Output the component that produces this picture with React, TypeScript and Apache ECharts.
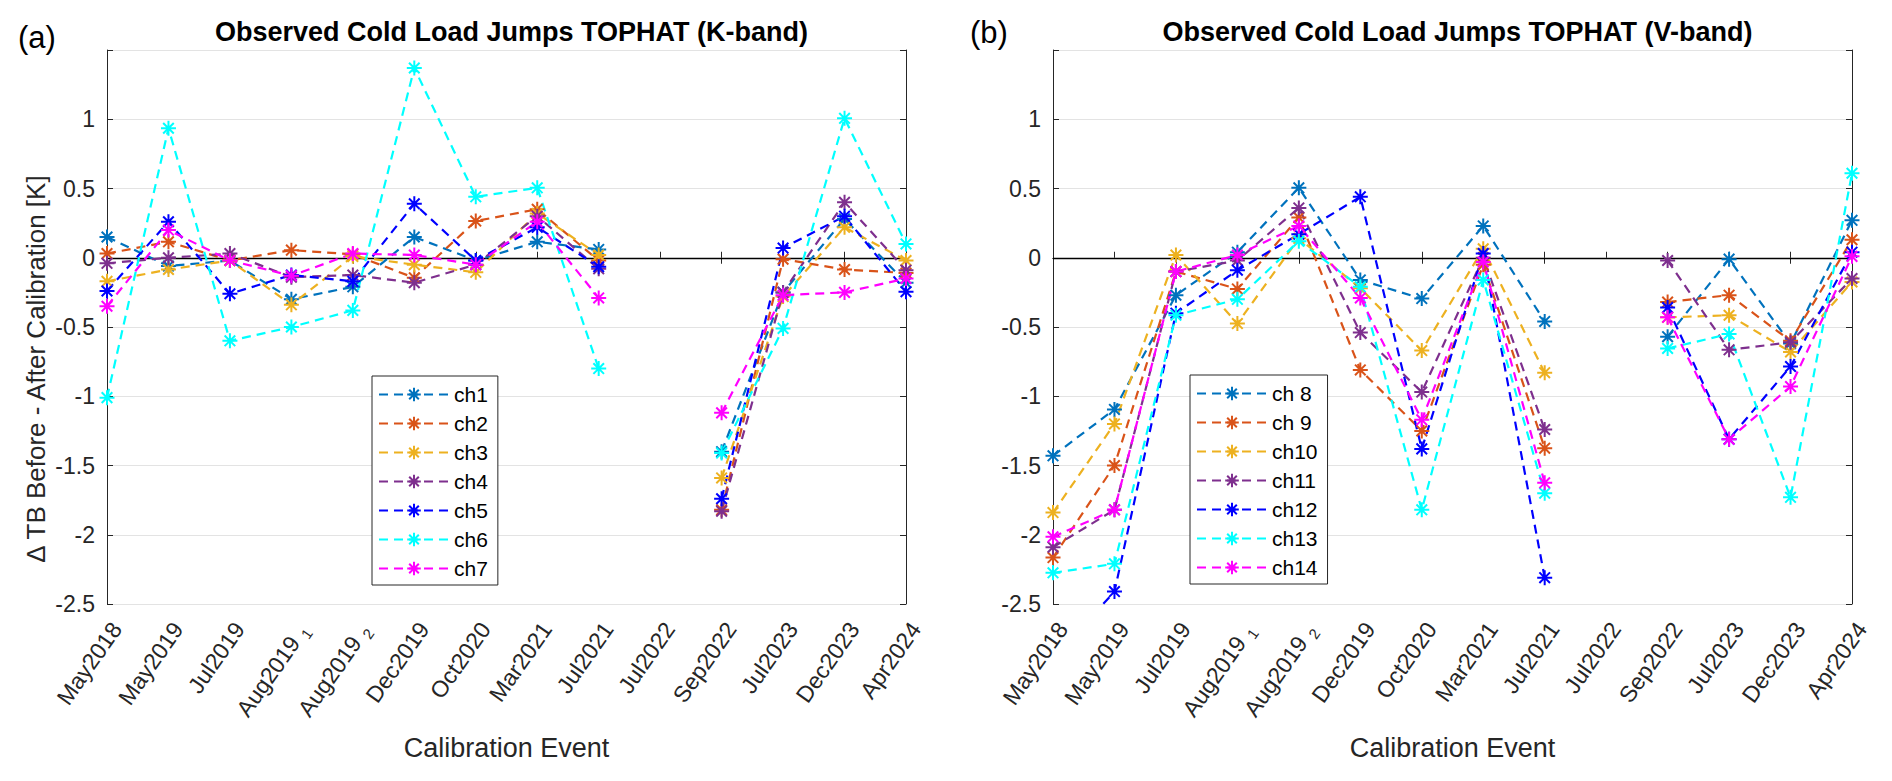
import React, { useEffect, useRef } from "react";
import * as echarts from "echarts";

// ---------- data ----------
const categories = [
  "May2018", "May2019", "Jul2019", "Aug2019_1", "Aug2019_2", "Dec2019", "Oct2020",
  "Mar2021", "Jul2021", "Jul2022", "Sep2022", "Jul2023", "Dec2023", "Apr2024",
];

const kNames = ["ch1", "ch2", "ch3", "ch4", "ch5", "ch6", "ch7"];
const vNames = ["ch 8", "ch 9", "ch10", "ch11", "ch12", "ch13", "ch14"];
const colors = ["#0072BD", "#D95319", "#EDB120", "#7E2F8E", "#0000FF", "#00FFFF", "#FF00FF"];

// K-band (panel a)
const ch1 = [0.15, -0.06, -0.02, -0.30, -0.21, 0.15, -0.02, 0.115, 0.06, null, -1.40, -0.25, 0.28, -0.18];
const ch2 = [0.03, 0.115, -0.02, 0.055, 0.025, -0.145, 0.265, 0.35, -0.02, null, -1.82, -0.01, -0.085, -0.11];
const ch3 = [-0.17, -0.085, -0.02, -0.34, 0.01, -0.05, -0.105, 0.32, 0.02, null, -1.59, -0.28, 0.22, -0.02];
const ch4 = [-0.04, 0.0, 0.03, -0.14, -0.125, -0.18, -0.05, 0.30, -0.08, null, -1.83, -0.25, 0.40, -0.09];
const ch5 = [-0.24, 0.26, -0.26, -0.125, -0.17, 0.39, -0.02, 0.22, -0.065, null, -1.74, 0.07, 0.30, -0.245];
const ch6 = [-1.01, 0.935, -0.60, -0.50, -0.38, 1.37, 0.44, 0.505, -0.80, null, -1.41, -0.51, 1.007, 0.10];
const ch7 = [-0.35, 0.20, -0.02, -0.13, 0.03, 0.02, -0.05, 0.26, -0.29, null, -1.12, -0.27, -0.25, -0.15];

// V-band (panel b)
const ch8 = [-1.43, -1.095, -0.27, 0.04, 0.505, -0.16, -0.295, 0.23, -0.46, null, -0.57, -0.01, -0.62, 0.27];
const ch9 = [-2.165, -1.50, -0.10, -0.225, 0.29, -0.81, -1.25, -0.05, -1.375, null, -0.32, -0.27, -0.60, 0.13];
const ch10 = [-1.84, -1.20, 0.02, -0.475, 0.14, -0.22, -0.67, 0.065, -0.83, null, -0.43, -0.415, -0.68, -0.175];
const ch11 = [-2.09, -1.82, -0.10, -0.02, 0.36, -0.54, -0.97, 0.0, -1.24, null, -0.02, -0.665, -0.61, -0.15];
const ch12 = [-2.9, -2.41, -0.40, -0.09, 0.17, 0.44, -1.38, 0.03, -2.31, null, -0.36, -1.31, -0.785, 0.04];
const ch13 = [-2.275, -2.21, -0.415, -0.30, 0.12, -0.21, -1.82, -0.16, -1.70, null, -0.655, -0.55, -1.73, 0.61];
const ch14 = [-2.015, -1.82, -0.10, 0.02, 0.23, -0.29, -1.17, -0.03, -1.625, null, -0.43, -1.31, -0.93, 0.01];

const kData = [ch1, ch2, ch3, ch4, ch5, ch6, ch7];
const vData = [ch8, ch9, ch10, ch11, ch12, ch13, ch14];

const titles = ["Observed Cold Load Jumps TOPHAT (K-band)", "Observed Cold Load Jumps TOPHAT (V-band)"];
const panelTags = ["(a)", "(b)"];
const yName = "\u0394 TB Before - After Calibration [K]";
const xName = "Calibration Event";

// ---------- styling ----------
const FONT = "'Liberation Sans', Arial, Helvetica, sans-serif";
const AX = "#262626";
const GRIDC = "#e3e3e3";
const ASTERISK = "path://M7,0L7,14M0,7L14,7M2.05,2.05L11.95,11.95M11.95,2.05L2.05,11.95";

const G = [
  { left: 107, top: 50, width: 799, height: 554 },
  { left: 1053, top: 50, width: 799, height: 554 },
];

function xLabelFmt(v: string) {
  const p = v.split("_");
  return p.length > 1 ? `{m|${p[0]}}  {s|${p[1]}}` : `{m|${v}}`;
}

export default function App() {
  const ref = useRef<HTMLDivElement>(null);

  useEffect(() => {
    if (!ref.current) return;
    const chart = echarts.init(ref.current, undefined, { renderer: "svg" });

    const xAxes: any[] = [];
    const yAxes: any[] = [];
    G.forEach((_, gi) => {
      xAxes.push({
        type: "category",
        gridIndex: gi,
        data: categories,
        boundaryGap: false,
        position: "bottom",
        name: xName,
        nameLocation: "middle",
        nameGap: 130,
        nameTextStyle: { fontSize: 27, color: AX, fontFamily: FONT },
        axisLine: { show: true, lineStyle: { color: AX, width: 1 } },
        axisTick: { show: true, inside: true, length: 6, alignWithLabel: true, lineStyle: { color: AX } },
        axisLabel: {
          show: true,
          interval: 0,
          rotate: 55,
          margin: 14,
          align: "right",
          verticalAlign: "top",
          formatter: xLabelFmt,
          rich: {
            m: { fontSize: 23, color: AX, fontFamily: FONT },
            s: { fontSize: 15, color: AX, fontFamily: FONT, padding: [14, 0, 0, 0] },
          },
        },
        splitLine: { show: false },
      });
      xAxes.push({
        type: "category",
        gridIndex: gi,
        data: categories,
        boundaryGap: false,
        position: "top",
        axisLine: { show: true, lineStyle: { color: AX, width: 1 } },
        axisTick: { show: true, inside: true, length: 6, lineStyle: { color: AX } },
        axisLabel: { show: false },
        splitLine: { show: false },
      });
      yAxes.push({
        type: "value",
        gridIndex: gi,
        min: -2.5,
        max: 1.5,
        interval: 0.5,
        position: "left",
        axisLine: { show: true, lineStyle: { color: AX, width: 1 } },
        axisTick: { show: true, inside: true, length: 6, lineStyle: { color: AX } },
        axisLabel: {
          show: true,
          margin: 12,
          fontSize: 23,
          color: AX,
          fontFamily: FONT,
          formatter: (v: number) => (v > 1.2 ? "" : String(v)),
        },
        splitLine: { show: true, lineStyle: { color: GRIDC, width: 1 } },
      });
      yAxes.push({
        type: "value",
        gridIndex: gi,
        min: -2.5,
        max: 1.5,
        interval: 0.5,
        position: "right",
        axisLine: { show: true, lineStyle: { color: AX, width: 1 } },
        axisTick: { show: true, inside: true, length: 6, lineStyle: { color: AX } },
        axisLabel: { show: false },
        splitLine: { show: false },
      });
    });

    const series: any[] = [];
    const addSeries = (names: string[], data: (number | null)[][], gi: number) => {
      names.forEach((n, i) => {
        const c = colors[i];
        const s: any = {
          type: "line",
          name: n,
          xAxisIndex: gi * 2,
          yAxisIndex: gi * 2,
          data: data[i],
          connectNulls: false,
          clip: true,
          color: c,
          symbol: ASTERISK,
          symbolSize: 15,
          symbolKeepAspect: true,
          showAllSymbol: true,
          lineStyle: { color: c, width: 2.2, type: [9, 6] },
          itemStyle: { color: c, borderColor: c, borderWidth: 2 },
          emphasis: { disabled: true },
          z: 3,
        };
        if (i === 0) {
          s.markLine = {
            silent: true,
            symbol: ["none", "none"],
            label: { show: false },
            lineStyle: { color: "#000", width: 1.3, type: "solid" },
            data: [{ yAxis: 0 }],
            z: 2,
          };
        }
        series.push(s);
      });
    };
    addSeries(kNames, kData, 0);
    addSeries(vNames, vData, 1);

    const legendCommon = {
      orient: "vertical",
      backgroundColor: "#fff",
      borderColor: AX,
      borderWidth: 1,
      borderRadius: 0,
      padding: [8, 10, 6, 6],
      itemGap: 8,
      itemWidth: 70,
      itemHeight: 17,
      selectedMode: false,
      textStyle: { fontSize: 21, color: "#000", fontFamily: FONT },
    };

    chart.setOption({
      animation: false,
      backgroundColor: "#fff",
      textStyle: { fontFamily: FONT },
      title: G.map((g, gi) => ({
        text: titles[gi],
        left: g.left + g.width / 2,
        top: 13,
        textAlign: "center",
        textStyle: { fontSize: 27, fontWeight: "bold", color: "#000", fontFamily: FONT },
      })),
      grid: G.map((g) => ({ ...g, containLabel: false })),
      xAxis: xAxes,
      yAxis: yAxes,
      legend: [
        { ...legendCommon, data: kNames, left: 372, top: 376 },
        { ...legendCommon, data: vNames, left: 1190, top: 375 },
      ],
      graphic: [
        { type: "text", left: 18, top: 22, style: { text: panelTags[0], fontSize: 31, fill: "#000", fontFamily: FONT } },
        { type: "text", left: 970, top: 17, style: { text: panelTags[1], fontSize: 31, fill: "#000", fontFamily: FONT } },
        {
          type: "text",
          x: 36,
          y: 369,
          rotation: Math.PI / 2,
          style: {
            text: yName,
            fontSize: 26,
            fill: AX,
            fontFamily: FONT,
            align: "center",
            verticalAlign: "middle",
          },
        },
      ],
      series,
    });

    return () => chart.dispose();
  }, []);

  return (
    <div
      ref={ref}
      style={{ position: "fixed", left: 0, top: 0, width: 1892, height: 781, background: "#fff" }}
    />
  );
}
